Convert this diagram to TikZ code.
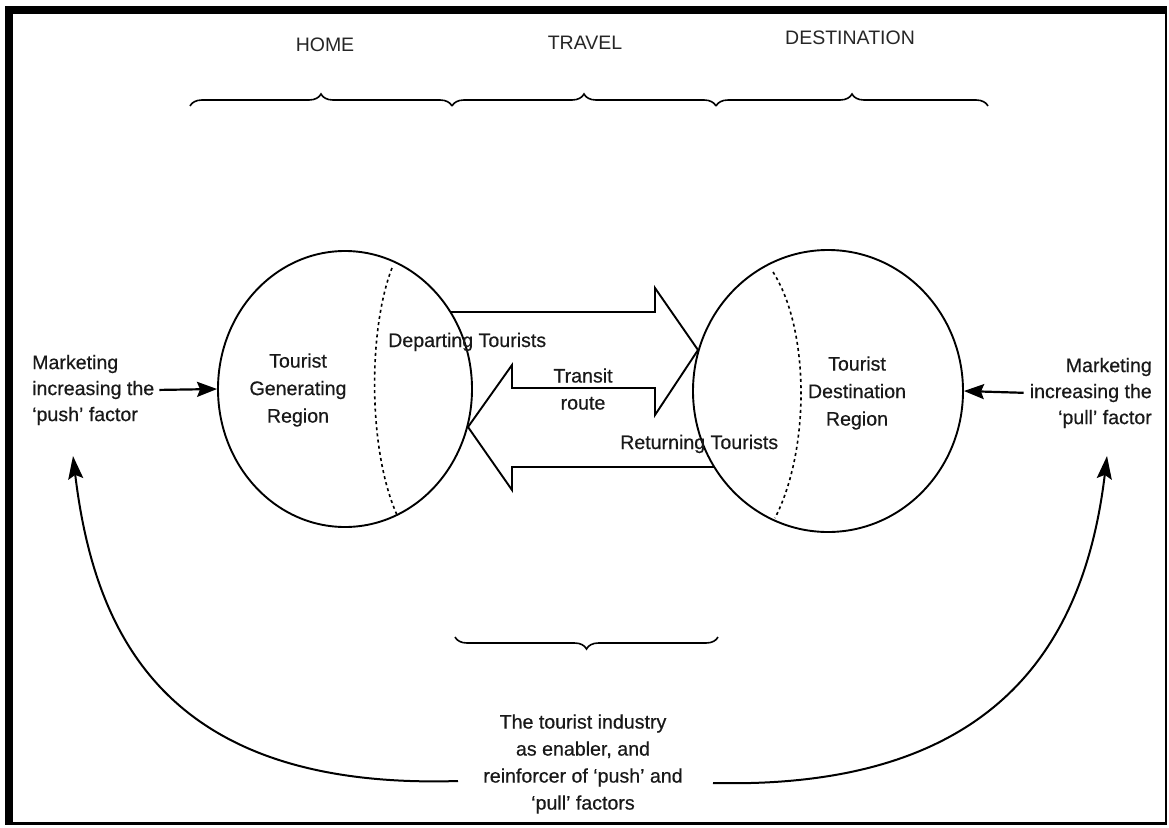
\documentclass[tikz,border=0pt]{standalone}
\usepackage{fontspec}
\setmainfont{Liberation Sans}
\newfontfamily\printface{Liberation Sans}[FakeBold=0.5]
\usetikzlibrary{shapes.geometric,arrows.meta,decorations.pathreplacing}
\begin{document}
\begin{tikzpicture}[x=1pt,y=-1pt,
  txt/.style={font=\printface\fontsize{19.6}{26}\selectfont, inner sep=0pt, text=black!90},
  head/.style={font=\fontsize{19.5}{23}\selectfont, inner sep=0pt, text=black!85},
  region/.style={ellipse, draw, line width=1.9pt, inner sep=0pt},
  divide/.style={line width=1.6pt, dash pattern=on 3pt off 3.2pt},
  flow/.style={line width=1.9pt, line join=miter},
  span/.style={decorate, decoration={brace, amplitude=12pt}, line width=1.6pt},
  sidearr/.style={line width=2.2pt, -{Stealth[length=20pt,width=15pt,inset=3pt]}},
  loop/.style={line width=2pt, -{Stealth[length=23pt,width=15pt,inset=4pt]}}]
\useasboundingbox (0,0) rectangle (1169,827);

% heavy outer frame
\fill[black] (5,6) rectangle (1167,825);
\fill[white] (13,14) rectangle (1164.5,822);

% column headings and their braces
\node[head] (home) at (325,45) {HOME};
\node[head] (travel) at (585,43) {TRAVEL};
\node[head] (destn) at (850,38) {DESTINATION};
\draw[span] (190,106) -- (452,106);
\draw[span] (452,106) -- (716,106);
\draw[span] (716,106) -- (988,106);

% the two regions
\node[region, minimum width=254pt, minimum height=276pt] (gen) at (345,389) {};
\node[region, minimum width=270pt, minimum height=282pt] (dest) at (828,391) {};
\draw[divide] (392,268) .. controls (368,330) and (368,450) .. (397,515);
\draw[divide] (773,272) .. controls (810,330) and (810,450) .. (775,518);

\node[txt, align=center, font=\printface\fontsize{19.6}{27.5}\selectfont] (genlbl) at (298,390) {Tourist\\Generating\\Region};
\node[txt, align=center, font=\printface\fontsize{19.6}{27.5}\selectfont] (destlbl) at (857,393) {Tourist\\Destination\\Region};

% transit route: outgoing and returning block arrows
\draw[flow] (450.5,312) -- (655,312) -- (655,288) -- (698,350) -- (655,415) -- (655,388)
  -- (512,388) -- (512,365) -- (468,427) -- (512,490) -- (512,467) -- (714,467);

\node[txt, anchor=base west] (dep) at (388,347) {Departing Tourists};
\node[txt, align=center, font=\printface\fontsize{19.6}{27}\selectfont] (transit) at (583,389) {Transit\\route};
\node[txt, anchor=base west] (ret) at (620,449) {Returning Tourists};

% marketing push and pull
\node[txt, align=left, anchor=west] (push) at (32,390) {Marketing\\increasing the\\‘push’ factor};
\node[txt, align=right, anchor=east] (pull) at (1152,393) {Marketing\\increasing the\\‘pull’ factor};
\draw[sidearr, shorten <=5pt] (push.east) -- (gen.west);
\draw[sidearr, shorten <=6pt] (pull.west) -- (dest.east);

% tourist industry
\draw[span] (718,637) -- (455,637);
\node[txt, align=center, font=\printface\fontsize{19.6}{27}\selectfont] (industry) at (583,764)
  {The tourist industry\\as enabler, and\\reinforcer of ‘push’ and\\‘pull’ factors};
\coordinate (loopL) at (458,781);
\coordinate (loopR) at (713,783);
\coordinate (tipL) at (73,456);
\coordinate (tipR) at (1107,456);
\draw[loop] (loopL) .. controls (170,790) and (95,640) .. (tipL);
\draw[loop] (loopR) .. controls (1000,790) and (1085,640) .. (tipR);
\end{tikzpicture}
\end{document}
